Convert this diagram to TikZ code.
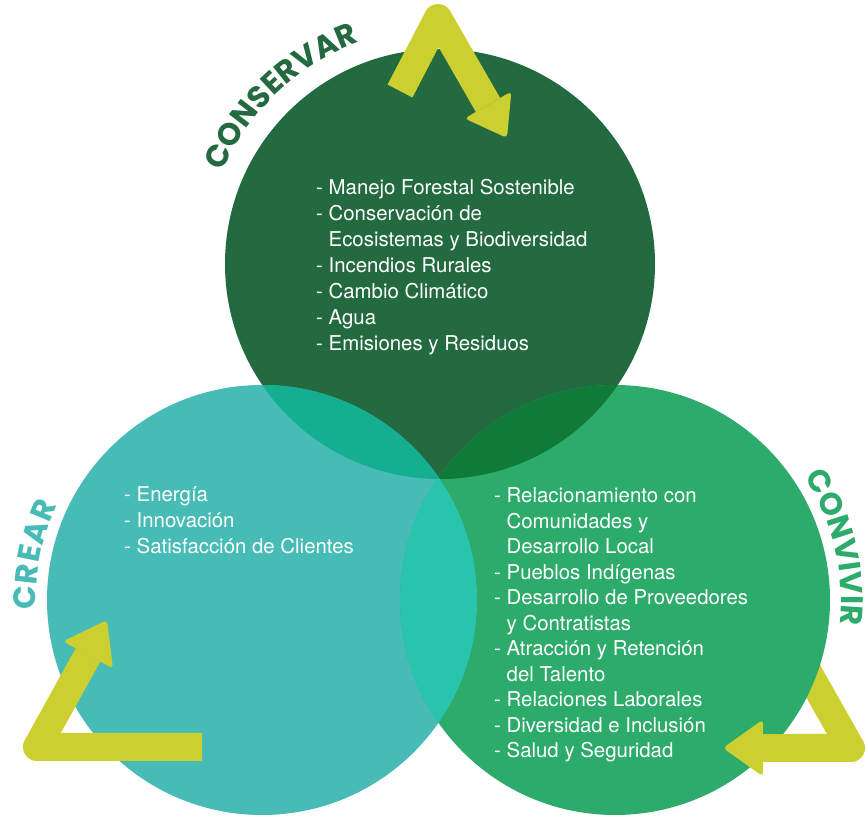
\documentclass[tikz,border=0pt]{standalone}
\usepackage{fontspec}
\setmainfont{TeX Gyre Heros}
\newfontfamily\labelfont{Poppins}
\usetikzlibrary{calc,decorations.text}
\definecolor{conservarcol}{RGB}{35,106,64}
\definecolor{crearcol}{RGB}{71,187,181}
\definecolor{convivircol}{RGB}{45,171,106}
\definecolor{mixtl}{RGB}{20,174,145}
\definecolor{mixtr}{RGB}{16,122,56}
\definecolor{mixlr}{RGB}{41,196,173}
\definecolor{arrowcol}{RGB}{203,207,48}
\begin{document}
\begin{tikzpicture}[x=1bp,y=1bp]
\newcommand{\circleradius}{215}
\newcommand{\listfont}{\fontsize{20.4bp}{26bp}\selectfont}
\newcommand{\labelsize}{\labelfont\bfseries\fontsize{31bp}{33bp}\selectfont}
\newcommand{\cont}{\hphantom{-\ }}
\tikzset{arrowbody/.style={draw=arrowcol, line width=28bp, line join=round},
  arrowhead/.style={fill=arrowcol, rounded corners=4bp},
  listtext/.style={inner sep=0pt, anchor=base west, text=white},
  ringlabel/.style={decorate, decoration={text along path, text align={fit to path}}}}
\useasboundingbox (0,0) rectangle (866,819);

\coordinate (ctop) at (440,555);
\coordinate (cleft) at (262,219);
\coordinate (cright) at (615,219);

% right arrow: its leg starts under the green circle
\coordinate (rstart) at (796,168);
\coordinate (rcorner) at (851,71);
\coordinate (rbase) at (763,71);
\coordinate (rtip) at (723,71);
\draw[arrowbody] (rstart) -- (rcorner) -- (rbase);

\fill[conservarcol] (ctop) circle (\circleradius);
\fill[crearcol] (cleft) circle (\circleradius);
\fill[convivircol] (cright) circle (\circleradius);
\begin{scope}
  \clip (ctop) circle (\circleradius);
  \fill[mixtl] (cleft) circle (\circleradius);
  \fill[mixtr] (cright) circle (\circleradius);
\end{scope}
\begin{scope}
  \clip (cleft) circle (\circleradius);
  \fill[mixlr] (cright) circle (\circleradius);
\end{scope}

\draw[arrowbody] (rcorner) -- (rbase);
\fill[arrowhead] (rtip) -- ($(rbase)!28.5bp!90:(rtip)$) -- ($(rbase)!28.5bp!-90:(rtip)$) -- cycle;

% top arrow
\coordinate (tstart) at (400,728);
\coordinate (tapex) at (438,801);
\coordinate (tbase) at (488,714);
\coordinate (ttip) at (507,681);
\draw[arrowbody] (tstart) -- (tapex) -- (tbase);
\fill[arrowhead] (ttip) -- ($(tbase)!27bp!90:(ttip)$) -- ($(tbase)!27bp!-90:(ttip)$) -- cycle;

% left arrow
\coordinate (lstart) at (202,72);
\coordinate (lcorner) at (37,72);
\coordinate (lbase) at (88,164);
\coordinate (ltip) at (107,199);
\draw[arrowbody] (lstart) -- (lcorner) -- (lbase);
\fill[arrowhead] (ltip) -- ($(lbase)!28.5bp!90:(ltip)$) -- ($(lbase)!28.5bp!-90:(ltip)$) -- cycle;

\path[ringlabel, decoration={text={|\labelsize|CONSERVAR}, text color=conservarcol}]
  ($(ctop)+(157:236)$) arc[start angle=157, end angle=110, radius=236];
\path[ringlabel, decoration={text={|\labelsize|CREAR}, text color=crearcol}]
  ($(cleft)+(182.5:226)$) arc[start angle=182.5, end angle=155, radius=226];
\path[ringlabel, decoration={text={|\labelsize|CONVIVIR}, text color=convivircol}]
  ($(cright)+(33:226)$) arc[start angle=33, end angle=-6, radius=226];

\node[listtext] (conservarlist) at (316,624) {\parbox[t]{340bp}{\listfont\raggedright
- Manejo Forestal Sostenible\\
- Conservación de\\
\cont Ecosistemas y Biodiversidad\\
- Incendios Rurales\\
- Cambio Climático\\
- Agua\\
- Emisiones y Residuos}};

\node[listtext] (crearlist) at (124,317) {\parbox[t]{260bp}{\listfont\raggedright
- Energía\\
- Innovación\\
- Satisfacción de Clientes}};

\node[listtext] (convivirlist) at (494,316) {\parbox[t]{300bp}{\fontsize{20.4bp}{25.5bp}\selectfont\raggedright
- Relacionamiento con\\
\cont Comunidades y\\
\cont Desarrollo Local\\
- Pueblos Indígenas\\
- Desarrollo de Proveedores\\
\cont y Contratistas\\
- Atracción y Retención\\
\cont del Talento\\
- Relaciones Laborales\\
- Diversidad e Inclusión\\
- Salud y Seguridad}};
\end{tikzpicture}
\end{document}
